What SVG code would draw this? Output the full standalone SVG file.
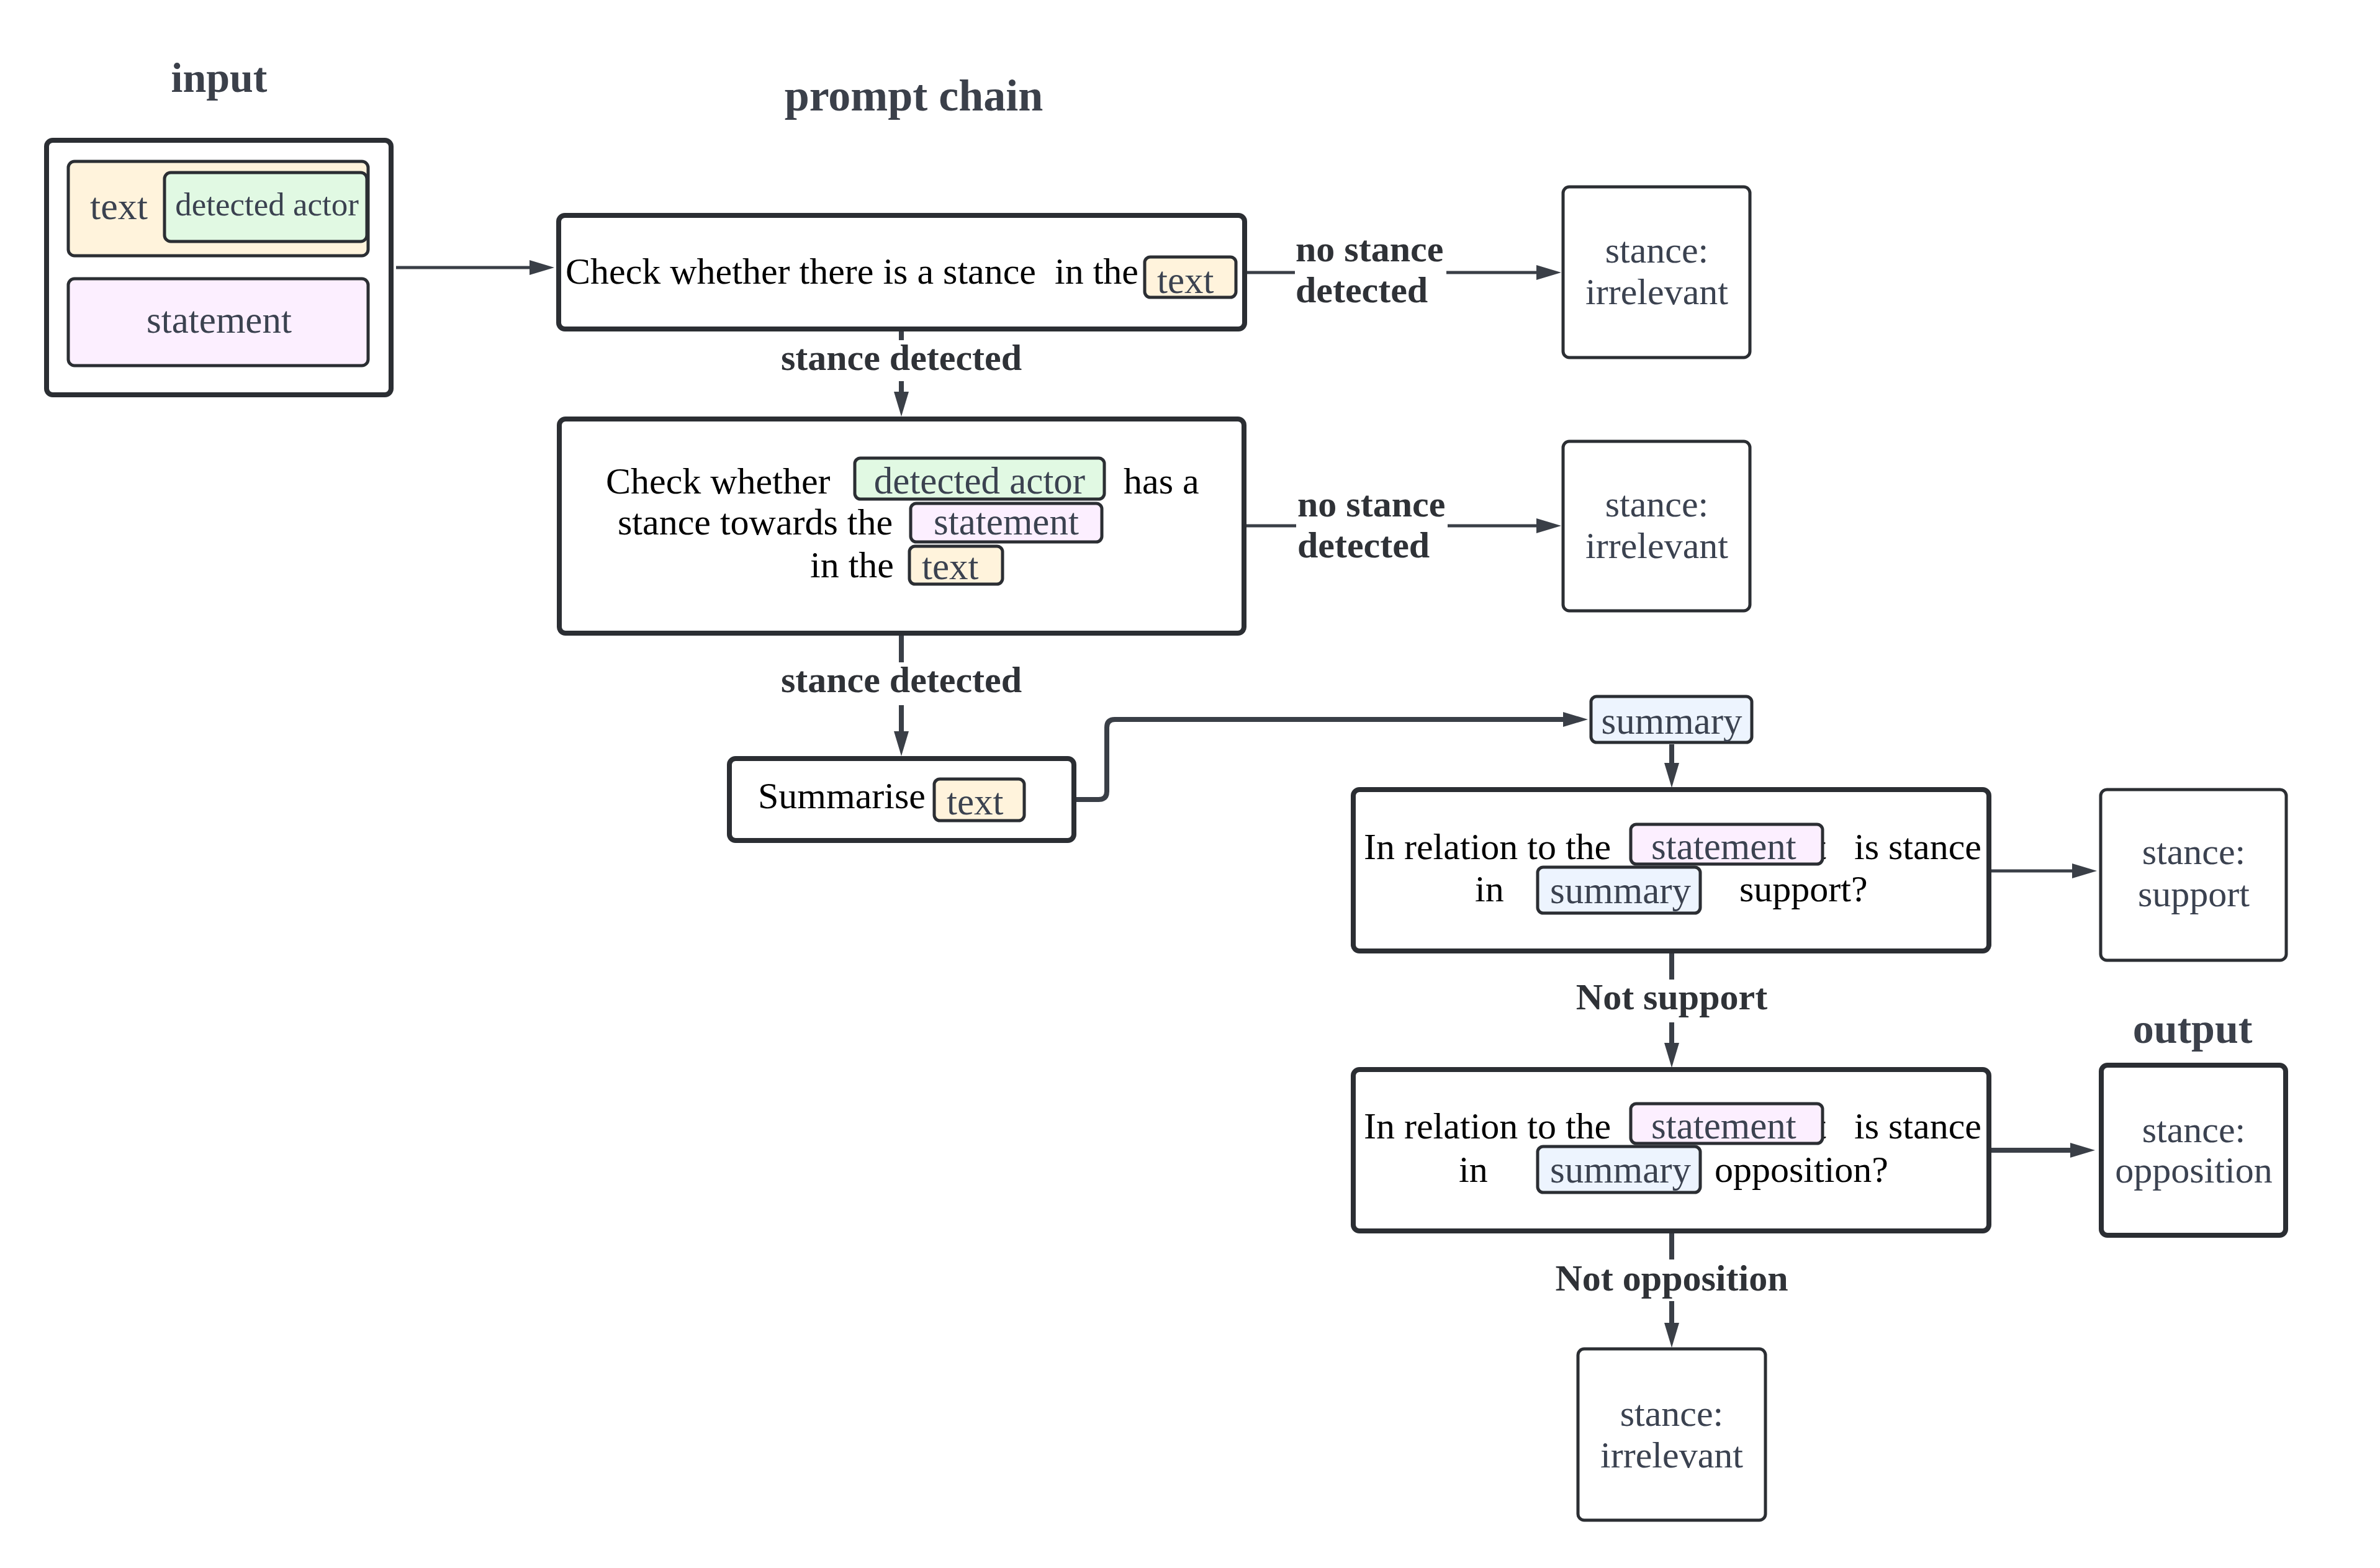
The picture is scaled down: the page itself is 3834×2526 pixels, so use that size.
<svg xmlns="http://www.w3.org/2000/svg" width="3834" height="2526" viewBox="0 0 3834 2526">
<style>
text{font-family:"Liberation Serif","Times New Roman",serif}
.title{font-size:70px;font-weight:bold;fill:#3b404a;text-anchor:middle}
.body{font-size:60px;fill:#000}
.chipt{font-size:61px;fill:#3b4250}
.term{font-size:60px;fill:#3b4250;text-anchor:middle}
.lbl{font-size:60px;font-weight:bold;fill:#2f3237}
.mid{text-anchor:middle}
.main{fill:#fff;stroke:#2b2e33;stroke-width:8}
.box{fill:#fff;stroke:#2b2e33;stroke-width:5}
.chip{stroke:#2b2e33;stroke-width:5}
.yel{fill:#fff3dc}
.grn{fill:#e1f9e3}
.pnk{fill:#fcefff}
.blu{fill:#edf4fe}
.thin{fill:none;stroke:#3a3f47;stroke-width:5}
.thick{fill:none;stroke:#3a3f47;stroke-width:8}
</style>
<defs>
<marker id="arr" viewBox="0 0 40 24" markerWidth="40" markerHeight="24" refX="0" refY="12" orient="auto" markerUnits="userSpaceOnUse">
<path d="M0,0 L40,12 L0,24 z" fill="#3a3f47"/>
</marker>
</defs>
<rect width="3834" height="2526" fill="#fff"/>

<g id="titles">
<text class="title" x="353" y="148" style="font-size:68px">input</text>
<text class="title" x="1472" y="178" style="font-size:72px">prompt chain</text>
<text class="title" x="3532" y="1680" style="font-size:68px">output</text>
</g>

<g id="connectors">
<path class="thin" d="M638,431 H853" marker-end="url(#arr)"/>
<path class="thick" d="M1452,534 V548 M1452,614 V631" marker-end="url(#arr)"/>
<path class="thin" d="M2009,439 H2086 M2330,439 H2475" marker-end="url(#arr)"/>
<path class="thin" d="M2008,847 H2088 M2332,847 H2475" marker-end="url(#arr)"/>
<path class="thick" d="M1452,1024 V1067 M1452,1136 V1178" marker-end="url(#arr)"/>
<path class="thick" d="M1734,1288 H1770 Q1783,1288 1783,1275 V1172 Q1783,1159 1796,1159 H2518" marker-end="url(#arr)"/>
<path class="thick" d="M2693,1199 V1229" marker-end="url(#arr)"/>
<path class="thin" d="M3208,1403 H3338" marker-end="url(#arr)"/>
<path class="thick" d="M2693,1536 V1578 M2693,1647 V1680" marker-end="url(#arr)"/>
<path class="thick" d="M3208,1853 H3335" marker-end="url(#arr)"/>
<path class="thick" d="M2693,1987 V2029 M2693,2096 V2131" marker-end="url(#arr)"/>
<text class="lbl mid" x="1452" y="596">stance detected</text>
<text class="lbl" x="2087" y="421">no stance</text>
<text class="lbl" x="2087" y="487">detected</text>
<text class="lbl" x="2090" y="832">no stance</text>
<text class="lbl" x="2090" y="898">detected</text>
<text class="lbl mid" x="1452" y="1115">stance detected</text>
<text class="lbl mid" x="2693" y="1626">Not support</text>
<text class="lbl mid" x="2693" y="2079">Not opposition</text>
</g>

<g id="input">
<rect class="main" x="75" y="226" width="555" height="410" rx="10"/>
<rect class="chip yel" x="110" y="260" width="483" height="152" rx="10"/>
<text class="chipt" x="145" y="353" style="font-size:62px">text</text>
<rect class="chip grn" x="265" y="278" width="326" height="111" rx="10"/>
<text class="chipt mid" x="430" y="347" style="font-size:53px">detected actor</text>
<rect class="chip pnk" x="110" y="449" width="483" height="140" rx="10"/>
<text class="chipt mid" x="353" y="536">statement</text>
</g>

<g id="check-stance">
<rect class="main" x="900" y="347" width="1105" height="183" rx="10"/>
<text class="body" x="911" y="457" xml:space="preserve">Check whether there is a stance  in the</text>
<rect class="chip yel" x="1844" y="414" width="147" height="65" rx="9"/>
<text class="chipt" x="1864" y="472">text</text>
</g>

<g id="irrelevant-1">
<rect class="box" x="2518" y="301" width="301" height="275" rx="10"/>
<text class="term" x="2669" y="423">stance:</text>
<text class="term" x="2669" y="490">irrelevant</text>
</g>

<g id="check-actor">
<rect class="main" x="901" y="675" width="1103" height="345" rx="10"/>
<text class="body" x="976" y="795">Check whether</text>
<rect class="chip grn" x="1377" y="738" width="402" height="66" rx="9"/>
<text class="chipt mid" x="1578" y="795">detected actor</text>
<text class="body" x="1810" y="795">has a</text>
<text class="body" x="995" y="861">stance towards the</text>
<rect class="chip pnk" x="1467" y="811" width="308" height="62" rx="9"/>
<text class="chipt mid" x="1621" y="861">statement</text>
<text class="body" x="1305" y="930">in the</text>
<rect class="chip yel" x="1465" y="880" width="150" height="61" rx="9"/>
<text class="chipt" x="1485" y="933">text</text>
</g>

<g id="irrelevant-2">
<rect class="box" x="2518" y="711" width="301" height="273" rx="10"/>
<text class="term" x="2669" y="832">stance:</text>
<text class="term" x="2669" y="899">irrelevant</text>
</g>

<g id="summarise">
<rect class="main" x="1175" y="1222" width="555" height="132" rx="10"/>
<text class="body" x="1221" y="1302">Summarise</text>
<rect class="chip yel" x="1505" y="1255" width="145" height="67" rx="9"/>
<text class="chipt" x="1525" y="1312">text</text>
</g>

<g id="summary">
<rect class="chip blu" x="2563" y="1122" width="259" height="74" rx="9"/>
<text class="chipt mid" x="2693" y="1182">summary</text>
</g>

<g id="check-support">
<rect class="main" x="2180" y="1272" width="1024" height="260" rx="10"/>
<text class="body" x="2197" y="1384">In relation to the</text>
<text class="body" x="2925" y="1384">t</text>
<rect class="chip pnk" x="2627" y="1328" width="309" height="64" rx="9"/>
<text class="chipt" x="2660" y="1384">statement</text>
<text class="body" x="2987" y="1384">is stance</text>
<text class="body" x="2376" y="1452">in</text>
<rect class="chip blu" x="2477" y="1397" width="262" height="74" rx="9"/>
<text class="chipt" x="2497" y="1455">summary</text>
<text class="body" x="2802" y="1452">support?</text>
</g>

<g id="support">
<rect class="box" x="3384" y="1272" width="299" height="275" rx="10"/>
<text class="term" x="3534" y="1392">stance:</text>
<text class="term" x="3534" y="1460">support</text>
</g>

<g id="check-opposition">
<rect class="main" x="2180" y="1723" width="1024" height="260" rx="10"/>
<text class="body" x="2197" y="1834">In relation to the</text>
<text class="body" x="2925" y="1834">t</text>
<rect class="chip pnk" x="2627" y="1778" width="309" height="64" rx="9"/>
<text class="chipt" x="2660" y="1834">statement</text>
<text class="body" x="2987" y="1834">is stance</text>
<text class="body" x="2350" y="1904">in</text>
<rect class="chip blu" x="2477" y="1847" width="262" height="74" rx="9"/>
<text class="chipt" x="2497" y="1905">summary</text>
<text class="body" x="2762" y="1904">opposition?</text>
</g>

<g id="opposition">
<rect class="main" x="3385" y="1716" width="297" height="274" rx="10"/>
<text class="term" x="3534" y="1840">stance:</text>
<text class="term" x="3534" y="1905">opposition</text>
</g>

<g id="irrelevant-3">
<rect class="box" x="2542" y="2173" width="302" height="276" rx="10"/>
<text class="term" x="2693" y="2297">stance:</text>
<text class="term" x="2693" y="2364">irrelevant</text>
</g>
</svg>
